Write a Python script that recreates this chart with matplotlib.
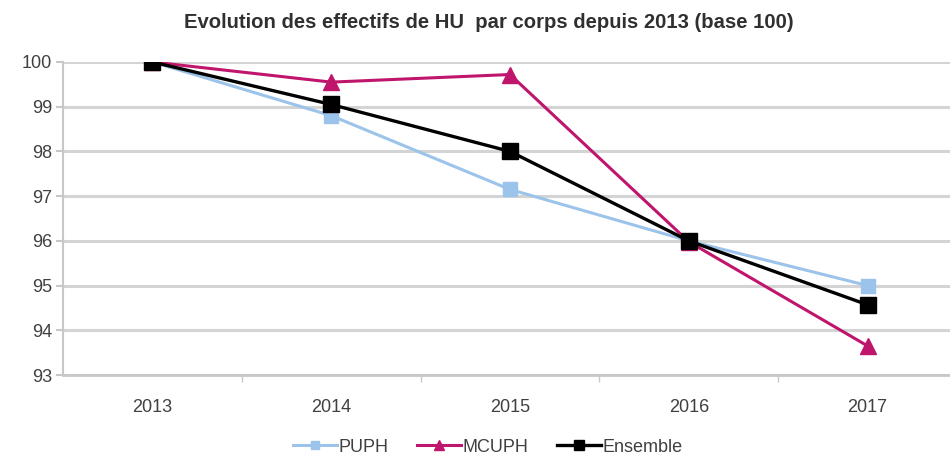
import matplotlib
matplotlib.use("Agg")
import matplotlib.pyplot as plt

plt.rcParams['font.family'] = ['Liberation Sans', 'DejaVu Sans']

years = ["2013", "2014", "2015", "2016", "2017"]
puph = [100.0, 98.8, 97.15, 96.0, 95.0]
mcuph = [100.0, 99.55, 99.72, 95.98, 93.65]
ensemble = [100.0, 99.05, 98.0, 96.0, 94.57]
y_ticks = [93, 94, 95, 96, 97, 98, 99, 100]
title = "Evolution des effectifs de HU  par corps depuis 2013 (base 100)"

W, H = 950, 459
fig = plt.figure(figsize=(W / 100, H / 100), dpi=100)
left, right, top, bottom = 63, 957, 62, 375
ax = fig.add_axes([left / W, 1 - bottom / H, (right - left) / W, (bottom - top) / H])

x = list(range(len(years)))
c_puph = "#9cc3ea"
c_mcuph = "#c0156c"
c_ens = "#000000"

ax.plot(x, puph, color=c_puph, lw=2.2, marker="s", ms=10, label="PUPH", zorder=3)
ax.plot(x, mcuph, color=c_mcuph, lw=2.2, marker="^", ms=11, label="MCUPH", zorder=4)
ax.plot(x, ensemble, color=c_ens, lw=2.4, marker="s", ms=12, label="Ensemble", zorder=5)

ax.set_xlim(-0.5, len(years) - 0.5)
ax.set_ylim(93, 100)
ax.set_yticks(y_ticks)
ax.set_yticklabels([str(v) for v in y_ticks])
ax.set_xticks(x)
ax.set_xticklabels(years)
ax.set_xticks([i + 0.5 for i in range(len(years) - 1)], minor=True)

ax.yaxis.grid(True, color="#d4d4d4", lw=2.2)
ax.set_axisbelow(True)
for s in ["top", "right"]:
    ax.spines[s].set_visible(False)
ax.spines["left"].set_color("#c8c8c8")
ax.spines["bottom"].set_color("#c8c8c8")
ax.spines["left"].set_linewidth(1.5)
ax.spines["bottom"].set_linewidth(2)
ax.tick_params(axis="x", which="major", length=0, pad=17, labelsize=13, labelcolor="#404040")
ax.tick_params(axis="x", which="minor", length=5, color="#c8c8c8", width=1)
ax.tick_params(axis="y", length=5, color="#c8c8c8", width=1.5, pad=3, labelsize=13, labelcolor="#404040")

fig.text(489 / W, 1 - 22 / H, title, ha="center", va="center", fontsize=14.6,
         fontweight="bold", color="#303030")

leg = fig.legend(loc="center", bbox_to_anchor=(488 / W, 1 - 447 / H), ncol=3, frameon=False,
                 fontsize=13, handlelength=2.4, handletextpad=0.1, columnspacing=1.6,
                 markerscale=0.6)
for t in leg.get_texts():
    t.set_color("#404040")

fig.savefig("out.png", dpi=100)
